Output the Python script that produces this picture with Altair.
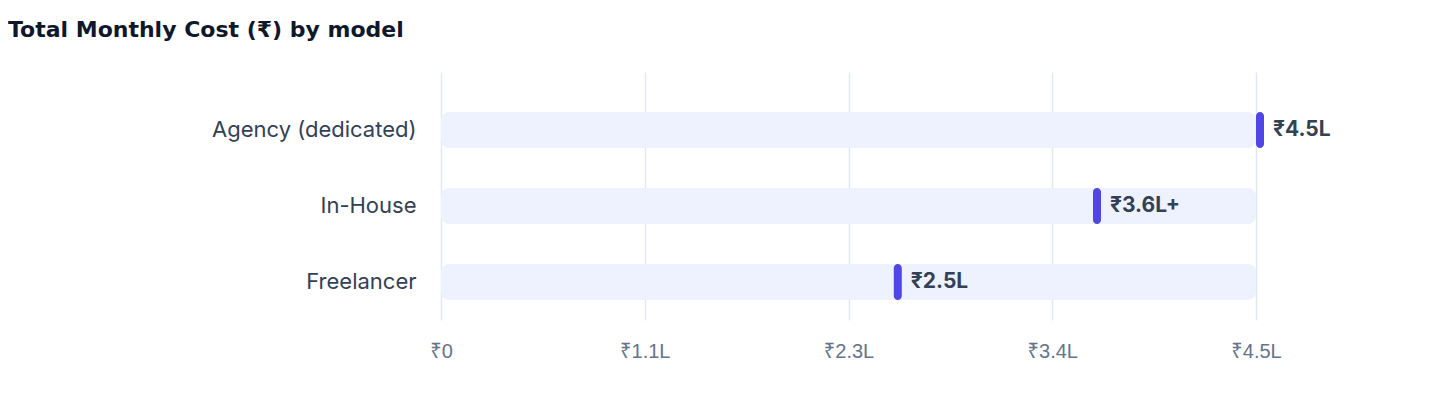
import altair as alt
import pandas as pd

models = ["Agency (dedicated)", "In-House", "Freelancer"]
costs = [450000, 360000, 250000]
cost_labels = ["₹4.5L", "₹3.6L+", "₹2.5L"]
track_max = [450000, 450000, 450000]
tick_values = [0, 112500, 225000, 337500, 450000]

df = pd.DataFrame({"model": models, "cost": costs, "label": cost_labels, "track": track_max})

FONT = "Inter, Noto Sans, DejaVu Sans"
AXIS_FONT = "Liberation Sans, Noto Sans, DejaVu Sans"
TITLE_FONT = "DejaVu Sans, Inter"

y_enc = alt.Y(
    "model:N",
    sort=models,
    title=None,
    scale=alt.Scale(paddingInner=0, paddingOuter=0.1316, align=1),
    axis=alt.Axis(
        domain=False, ticks=False, grid=False, labelFontSize=22, labelColor="#334155",
        labelPadding=25, minExtent=433, labelFont=FONT, labelLimit=0,
    ),
)
x_scale = alt.Scale(domain=[0, 450000], nice=False)
x_axis = alt.Axis(
    values=tick_values, domain=False, ticks=False, grid=True, gridColor="#e2e8f0", gridWidth=1.5,
    labelFontSize=20, labelColor="#64748b", labelPadding=21, labelFont=AXIS_FONT, labelFlush=False,
    labelExpr="datum.value == 0 ? '₹0' : '₹' + format(datum.value / 100000, '.1f') + 'L'",
    title=None,
)

base = alt.Chart(df)

track = base.mark_bar(size=36, cornerRadius=8, color="#eef2ff").encode(
    x=alt.X("track:Q", scale=x_scale, axis=x_axis),
    y=y_enc,
)

marker = base.mark_tick(thickness=8, size=36, cornerRadius=4, color="#4f46e5", xOffset=4, opacity=1).encode(
    x=alt.X("cost:Q", scale=x_scale),
    y=alt.Y("model:N", sort=models),
)

text = base.mark_text(align="left", baseline="middle", dx=17, fontSize=21, fontWeight="bold",
                      color="#334155", font=FONT).encode(
    x=alt.X("cost:Q", scale=x_scale),
    y=alt.Y("model:N", sort=models),
    text="label:N",
)

chart = alt.layer(track, marker, text).properties(
    width=815,
    height=248,
    padding={"left": 0, "top": 11, "right": 5, "bottom": 5},
    title=alt.TitleParams(
        "Total Monthly Cost (₹) by model", anchor="start", frame="bounds", fontSize=22,
        fontWeight="bold", color="#0f172a", font=TITLE_FONT, offset=30,
    ),
).configure_view(stroke=None)

chart.save("out.html", embed_options={"renderer": "svg", "actions": False})
